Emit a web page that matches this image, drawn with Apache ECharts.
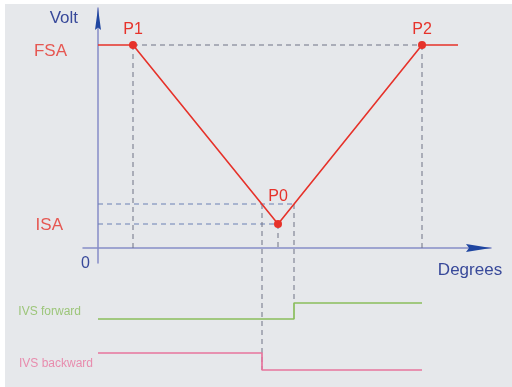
<!DOCTYPE html>
<html>
<head>
<meta charset="utf-8">
<script src="https://cdn.jsdelivr.net/npm/echarts@6/dist/echarts.min.js"></script>
<style>
html, body { margin: 0; padding: 0; background: #fff; }
#chart { position: absolute; left: 5px; top: 4px; width: 507px; height: 383px; }
</style>
</head>
<body>
<div id="chart"></div>
<script>
// levels on the volt axis
let FSA = 20.3
let ISA = 2.4
let ISA_HI = 4.4

// points of the V curve (degrees, volt)
let pointNames = ['P1', 'P0', 'P2']
let pointX = [8.75, 45, 81]
let pointY = [FSA, ISA, FSA]
let curveX = [0, 8.75, 45, 81, 90]
let curveY = [FSA, FSA, ISA, FSA, FSA]

// switching signals (drawn below the axis, same degree scale)
let backwardAt = 41
let forwardAt = 49
let ivsEnd = 81
let fwdLevels = [-7.1, -5.5]   // low, high
let bwdLevels = [-10.5, -12.2] // high, low

let font = '"Liberation Sans", Arial, sans-serif'
let red = '#e6322a'
let blueText = '#38499a'
let axisCol = '#868dc7'
let arrowCol = '#1f45a0'
let guideGray = '#6e7385'
let guideBlue = '#6a80b4'
let green = '#8abd5c'
let pink = '#e8749d'

let xMin = -3.75, xMax = 98.25
let arrowX = 'path://M4,0 L8,25 L4,22 L0,25 Z'
let arrowY = 'path://M3,0 L6,22 L3,19.5 L0,22 Z'

let zip = (xs, ys) => xs.map((x, i) => [x, ys[i]])

let guide = function(pts, color) {
    return {
        type: 'line', xAxisIndex: 2, yAxisIndex: 2, data: pts, symbol: 'none', silent: true, z: 1,
        lineStyle: { color: color, width: 1, type: [5, 4] }
    }
}

let noAxisBits = { axisTick: { show: false }, splitLine: { show: false } }

let option = {
    animation: false,
    backgroundColor: '#e6e8eb',
    textStyle: { fontFamily: font },
    grid: [
        { left: 78, right: 21, top: 4, bottom: 124 },
        { left: 78, right: 21, top: 4, bottom: 7 }
    ],
    xAxis: [
        Object.assign({
            gridIndex: 0, type: 'value', min: xMin, max: xMax, position: 'bottom',
            axisLine: { onZero: true, lineStyle: { color: axisCol, width: 1.5 } },
            axisLabel: { customValues: [0], color: blueText, fontSize: 16, fontFamily: font,
                align: 'right', padding: [0, 8, 0, 0], margin: -7 },
            name: 'Degrees', nameLocation: 'end', nameGap: -21,
            nameTextStyle: { color: blueText, fontSize: 17, fontFamily: font,
                align: 'center', verticalAlign: 'top', padding: [14, 0, 0, 0] }
        }, noAxisBits),
        Object.assign({
            gridIndex: 0, type: 'value', min: xMin, max: xMax, position: 'bottom',
            axisLine: { onZero: true, symbol: ['none', arrowX], symbolSize: [8, 25], symbolOffset: [0, -12.5],
                lineStyle: { color: arrowCol, width: 0 } },
            axisLabel: { show: false }
        }, noAxisBits),
        { gridIndex: 1, type: 'value', min: xMin, max: xMax, show: false }
    ],
    yAxis: [
        Object.assign({
            gridIndex: 0, type: 'value', min: -1.5, max: 24, position: 'left',
            axisLine: { onZero: true, lineStyle: { color: axisCol, width: 1.5 } },
            axisLabel: { show: false },
            name: 'Volt', nameLocation: 'end', nameGap: -19,
            nameTextStyle: { color: blueText, fontSize: 17, fontFamily: font,
                align: 'right', verticalAlign: 'bottom', padding: [0, 20, 0, 0] }
        }, noAxisBits),
        Object.assign({
            gridIndex: 0, type: 'value', min: -1.5, max: 24, position: 'left',
            axisLine: { onZero: true, symbol: ['none', arrowY], symbolSize: [6, 22], symbolOffset: [0, -11],
                lineStyle: { color: arrowCol, width: 0 } },
            axisLabel: { show: false }
        }, noAxisBits),
        { gridIndex: 1, type: 'value', min: -13.2, max: 24, show: false }
    ],
    series: [
        guide([[pointX[0], FSA], [pointX[2], FSA]], guideGray),
        guide([[pointX[0], FSA], [pointX[0], 0]], guideGray),
        guide([[pointX[2], FSA], [pointX[2], 0]], guideGray),
        guide([[pointX[1], ISA], [pointX[1], 0]], guideGray),
        guide([[0, ISA], [pointX[1], ISA]], guideBlue),
        guide([[0, ISA_HI], [forwardAt, ISA_HI]], guideBlue),
        guide([[backwardAt, ISA_HI], [backwardAt, bwdLevels[1]]], guideGray),
        guide([[forwardAt, ISA_HI], [forwardAt, fwdLevels[1]]], guideGray),
        {
            name: 'Volt', type: 'line', xAxisIndex: 2, yAxisIndex: 2, symbol: 'none', z: 3,
            data: zip(curveX, curveY),
            lineStyle: { color: red, width: 1.6 }
        },
        {
            name: 'IVS forward', type: 'line', xAxisIndex: 2, yAxisIndex: 2, symbol: 'none', z: 3,
            data: [[0, fwdLevels[0]], [forwardAt, fwdLevels[0]], [forwardAt, fwdLevels[1]], [ivsEnd, fwdLevels[1]]],
            lineStyle: { color: green, width: 1.7 }
        },
        {
            name: 'IVS backward', type: 'line', xAxisIndex: 2, yAxisIndex: 2, symbol: 'none', z: 3,
            data: [[0, bwdLevels[0]], [backwardAt, bwdLevels[0]], [backwardAt, bwdLevels[1]], [ivsEnd, bwdLevels[1]]],
            lineStyle: { color: pink, width: 1.7 }
        },
        {
            type: 'scatter', xAxisIndex: 2, yAxisIndex: 2, symbolSize: 8, z: 4,
            itemStyle: { color: red, opacity: 1 },
            label: { show: true, position: 'top', formatter: '{b}', color: red, fontSize: 16, fontFamily: font },
            data: pointNames.map((n, i) => ({ name: n, value: [pointX[i], pointY[i]],
                label: { distance: n === 'P0' ? 15 : 3 } }))
        },
        {
            type: 'scatter', xAxisIndex: 2, yAxisIndex: 2, symbolSize: 0, z: 4,
            label: { show: true, position: 'left', formatter: '{b}', fontFamily: font },
            data: [
                { name: 'FSA', value: [0, FSA], label: { distance: 31, offset: [0, 6], color: red, fontSize: 17 } },
                { name: 'ISA', value: [0, ISA], label: { distance: 35, offset: [0, 1], color: red, fontSize: 17 } },
                { name: 'IVS forward', value: [0, fwdLevels[0]], label: { distance: 17, offset: [0, -7], color: green, fontSize: 12 } },
                { name: 'IVS backward', value: [0, bwdLevels[0]], label: { distance: 5, offset: [0, 11], color: pink, fontSize: 12 } }
            ]
        }
    ]
}

let myChart = echarts.init(document.getElementById('chart'))
myChart.setOption(option)
</script>
</body>
</html>
